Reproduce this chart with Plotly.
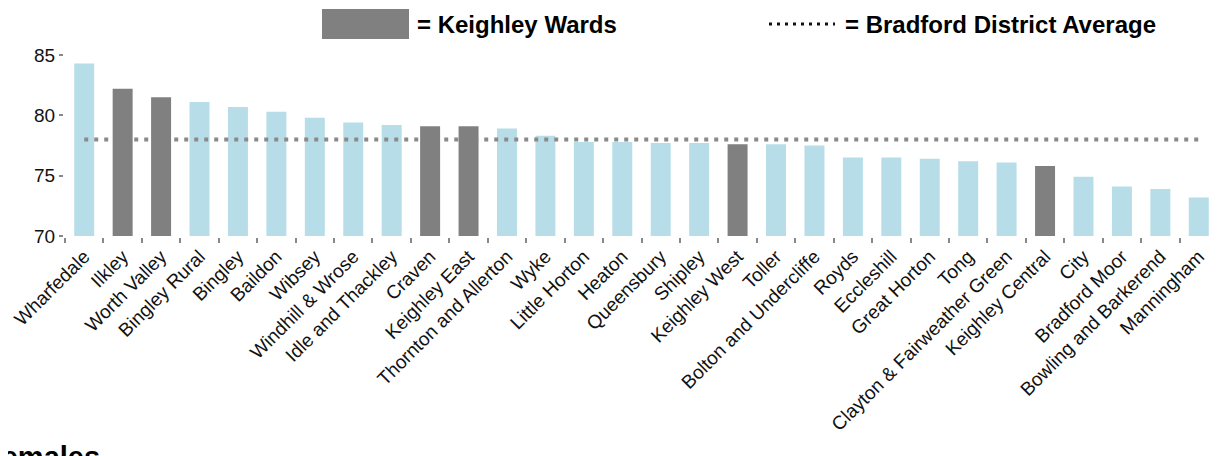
import plotly.graph_objects as go

wards = ["Wharfedale", "Ilkley", "Worth Valley", "Bingley Rural", "Bingley", "Baildon",
         "Wibsey", "Windhill & Wrose", "Idle and Thackley", "Craven", "Keighley East",
         "Thornton and Allerton", "Wyke", "Little Horton", "Heaton", "Queensbury",
         "Shipley", "Keighley West", "Toller", "Bolton and Undercliffe", "Royds",
         "Eccleshill", "Great Horton", "Tong", "Clayton & Fairweather Green",
         "Keighley Central", "City", "Bradford Moor", "Bowling and Barkerend", "Manningham"]
life_expectancy = [84.3, 82.2, 81.5, 81.1, 80.7, 80.3, 79.8, 79.4, 79.2, 79.1, 79.1,
                   78.9, 78.3, 77.8, 77.8, 77.7, 77.7, 77.6, 77.6, 77.5, 76.5, 76.5,
                   76.4, 76.2, 76.1, 75.8, 74.9, 74.1, 73.9, 73.2]
keighley_wards = ["Ilkley", "Worth Valley", "Craven", "Keighley East", "Keighley West",
                  "Keighley Central"]
district_average = 78.0
y_ticks = [70, 75, 80, 85]

LIGHT = "#B7DEE8"
DARK = "#808080"
AXIS = "#888888"
FONT = "Liberation Sans, Arial, sans-serif"

OFF = 8                      # default body margin of the html page
W, H = 1225 - OFF, 456 - OFF
# plot area in page pixels
L, R, T, B = 65, 1218, 55, 236


def px(x):
    return (x - L) / (R - L)


def py(y):
    return (B - y) / (B - T)


other_vals = [v if w not in keighley_wards else None for w, v in zip(wards, life_expectancy)]
keigh_vals = [v if w in keighley_wards else None for w, v in zip(wards, life_expectancy)]

fig = go.Figure()
fig.add_trace(go.Bar(x=wards, y=other_vals, marker=dict(color=LIGHT, line=dict(width=0)),
                     zorder=0, showlegend=False))
fig.add_trace(go.Scatter(x=wards, y=[district_average] * len(wards), mode="lines",
                         line=dict(color="#8a8a8a", width=4, dash="4px,6px"),
                         zorder=1, showlegend=False))
fig.add_trace(go.Bar(x=wards, y=keigh_vals, marker=dict(color=DARK, line=dict(width=0)),
                     zorder=2, showlegend=False))

fig.update_layout(
    width=W, height=H,
    margin=dict(l=L - OFF, r=W - (R - OFF), t=T - OFF, b=H - (B - OFF), pad=0),
    paper_bgcolor="white", plot_bgcolor="white",
    barmode="overlay", bargap=0.48,
    font=dict(family=FONT, color="#000000"),
)
fig.update_xaxes(
    automargin=False,
    showline=True, linecolor=AXIS, linewidth=2,
    ticks="outside", tickson="boundaries", ticklen=5, tickcolor=AXIS, tickwidth=1.5,
    tickangle=-45, tickfont=dict(size=19, family=FONT, color="#111111"),
    showgrid=False, zeroline=False,
)
fig.update_yaxes(
    automargin=False,
    range=[70, 85], tickvals=y_ticks,
    showline=True, linecolor=AXIS, linewidth=2,
    ticks="outside", ticklen=4, tickcolor=AXIS, tickwidth=1.5,
    tickfont=dict(size=19, family=FONT, color="#111111"),
    showgrid=False, zeroline=False,
)

# Legend drawn manually
fig.add_shape(type="rect", xref="paper", yref="paper",
              x0=px(322), x1=px(409), y0=py(39), y1=py(9),
              fillcolor=DARK, line=dict(width=0))
fig.add_annotation(xref="paper", yref="paper", x=px(415), y=py(24), xanchor="left",
                   yanchor="middle", showarrow=False,
                   text="<b>= Keighley Wards</b>", font=dict(size=24, family=FONT, color="#000"))
fig.add_shape(type="line", xref="paper", yref="paper",
              x0=px(769), x1=px(835), y0=py(24), y1=py(24),
              line=dict(color="#111111", width=3, dash="3px,5px"))
fig.add_annotation(xref="paper", yref="paper", x=px(843), y=py(24), xanchor="left",
                   yanchor="middle", showarrow=False,
                   text="<b>= Bradford District Average</b>",
                   font=dict(size=24, family=FONT, color="#000"))

# Section heading partially cut off at the bottom (as in the reference)
fig.add_annotation(xref="paper", yref="paper", x=px(-18), y=py(457), xanchor="left",
                   yanchor="middle", showarrow=False,
                   text="<b>Females</b>", font=dict(size=29, family=FONT, color="#000"))

fig.write_html("out.html")
